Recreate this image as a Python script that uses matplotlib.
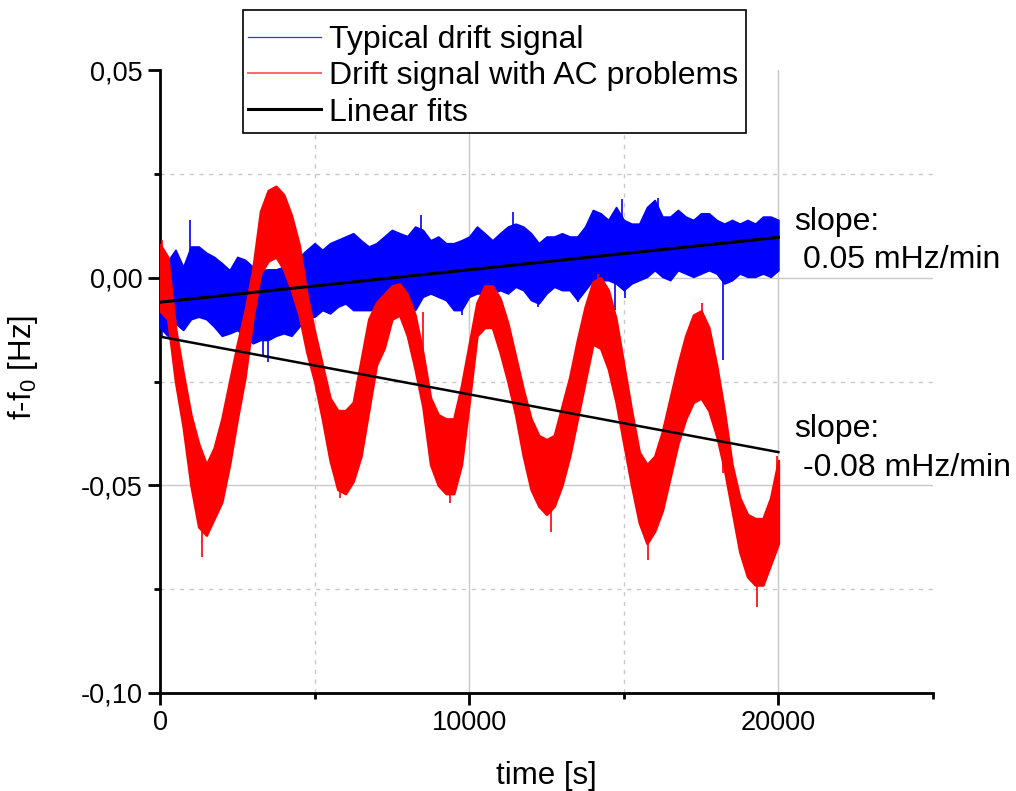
import numpy as np
import matplotlib
matplotlib.use('Agg')
import matplotlib.pyplot as plt
from matplotlib.lines import Line2D
from matplotlib.patches import Rectangle
from matplotlib.ticker import FixedLocator, FuncFormatter

plt.rcParams['font.family'] = ['Liberation Sans', 'DejaVu Sans']
plt.rcParams['mathtext.fontset'] = 'custom'
plt.rcParams['mathtext.rm'] = 'Liberation Sans'
plt.rcParams['mathtext.it'] = 'Liberation Sans'

# %% data, time in s, signal envelopes in mHz
t = np.arange(0, 20001, 250)

red_hi = [8, 5, -12, -23, -33, -40, -45, -41, -34, -25, -16, -8, 2, 16, 21, 22,
          20, 15, 8, -4, -13, -21, -29, -32, -32, -30, -20, -10, -6, -4, -2, -1.5,
          -4, -9, -18, -29, -33, -34, -34, -26, -16, -6, -2, -2, -5, -11, -19, -27,
          -34, -38, -39, -38, -31, -24, -15, -7, -1, 0, -3, -10, -21, -32, -42, -45,
          -43, -37, -29, -21, -14, -9, -8, -12, -21, -32, -45, -53, -57, -58, -58, -53,
          -44]
red_lo = [-8, -10, -25, -36, -50, -60, -62, -58, -54, -45, -34, -24, -10, 1, 4, 5,
          2, -3, -9, -18, -25, -34, -44, -51, -52, -49, -43, -32, -21, -17, -10, -9,
          -14, -22, -31, -45, -50, -52, -52, -45, -30, -14, -12, -12, -18, -25, -33, -43,
          -51, -55, -57, -55, -50, -43, -34, -25, -16, -17, -22, -30, -40, -50, -59, -64,
          -61, -56, -48, -40, -34, -30, -29, -32, -38, -46, -56, -66, -72, -74, -74, -69,
          -64]

blue_hi = [3, 4, 6.7, 2.6, 7.5, 7.5, 6, 5, 3.5, 1.8, 5, 4.3, 2.6, 1.8, 2, 2,
           2.6, 3.5, 5, 6.7, 8.3, 6.7, 8.3, 9.1, 9.9, 10.7, 9, 7.5, 8.3, 9.9, 11.5, 10.7,
           10, 12.3, 11.5, 9, 9.9, 8.3, 8.3, 9, 9.9, 12.3, 10.7, 9, 10.7, 12.3, 13, 12.3,
           10.7, 8.3, 9.9, 9.9, 10.7, 9.9, 9.9, 12.3, 16.3, 15.5, 13.9, 17, 13.9, 13, 13, 17,
           18.7, 14.7, 14.7, 16.3, 14.7, 13.9, 15.5, 15.5, 13.9, 13, 13.9, 13, 13.9, 13, 14.7, 14.7,
           13.9]
blue_lo = [-12, -14, -11, -12.6, -10, -9.4, -10, -11.8, -14, -13.4, -12.6, -14.2, -15.8, -15, -15, -14,
           -13.4, -14, -11.8, -9.4, -9.4, -7.8, -8.6, -7, -6.2, -7.8, -7.8, -7.8, -7.8, -6.2, -5, -6,
           -5.4, -7.8, -4.6, -3.8, -4.6, -5.4, -7.8, -7.8, -4.6, -3.8, -3.8, -3.8, -3, -3.8, -2.2, -3,
           -5.4, -6.2, -3.8, -2.2, -3, -3, -5.4, -3, -0.6, -0.6, -0.6, -1.4, -3, -1.4, -0.6, 0.2,
           1.8, 0.2, -0.6, 1.8, 1, 0.2, 1, 1.8, 1, -1.4, -0.6, 1, 0.2, 0.2, 1, 0.2,
           1.8]

# single spikes sticking out of the bands
red_spike_t = [54, 1348, 5821, 8518, 9394, 12634, 14176, 15771, 17517, 18218, 19297, 19945]
red_spike_v = [9, -67.2, -53.1, -8.2, -54.2, -61.2, 1.0, -68, -6.0, -47, -79.2, -43]
blue_spike_t = [75, 970, 3342, 3504, 8453, 9756, 11424, 12237, 13528, 14715, 14930, 15034, 16094, 18197]
blue_spike_v = [-14, 14.0, -19, -20.2, 15.2, -9.1, 15.9, -7.0, -5.8, -7.8, 18.9, -5.0, 19.1, -19.8]

# linear fits (Hz)
fit_t = [0, 20000]
blue_fit = [-0.0059, 0.0097]
red_fit = [-0.0142, -0.0420]

# %%
def to_hz(v):
    return np.asarray(v, dtype=float) / 1000.0

fig = plt.figure(figsize=(10.16, 7.91), dpi=100)
ax = fig.add_axes([160 / 1016, 1 - 693 / 791, 773 / 1016, 623 / 791])

# blue band
ax.fill_between(t, to_hz(blue_lo), to_hz(blue_hi), color='blue', lw=1.2, edgecolor='blue', zorder=3)
bmid = (np.array(blue_hi) + np.array(blue_lo)) / 2
ax.vlines(blue_spike_t, to_hz(np.interp(blue_spike_t, t, bmid)), to_hz(blue_spike_v),
          color='blue', lw=1.2, zorder=3)

# red band on top
ax.fill_between(t, to_hz(red_lo), to_hz(red_hi), color='red', lw=1.8, edgecolor='red', zorder=4)
rmid = (np.array(red_hi) + np.array(red_lo)) / 2
ax.vlines(red_spike_t, to_hz(np.interp(red_spike_t, t, rmid)), to_hz(red_spike_v),
          color='red', lw=1.2, zorder=4)

ax.plot(fit_t, blue_fit, color='black', lw=2.2, zorder=5)
ax.plot(fit_t, red_fit, color='black', lw=1.8, zorder=5)

ax.set_xlim(0, 25000)
ax.set_ylim(-0.10, 0.05)

# grid: solid at major, dashed at minor
for y in [0.0, -0.05]:
    ax.axhline(y, color='#c8c8c8', lw=1.0, zorder=1)
for x in [10000, 20000]:
    ax.axvline(x, color='#c8c8c8', lw=1.0, zorder=1)
for y in [0.025, -0.025, -0.075]:
    ax.axhline(y, color='#c8c8c8', lw=1.0, ls=(0, (3, 4)), zorder=1)
for x in [5000, 15000]:
    ax.axvline(x, color='#c8c8c8', lw=1.0, ls=(0, (3, 4)), zorder=1)

for s in ['top', 'right']:
    ax.spines[s].set_visible(False)
for s in ['left', 'bottom']:
    ax.spines[s].set_linewidth(2)

ax.xaxis.set_major_locator(FixedLocator([0, 10000, 20000]))
ax.xaxis.set_minor_locator(FixedLocator([5000, 15000, 25000]))
ax.yaxis.set_major_locator(FixedLocator([0.05, 0.0, -0.05, -0.10]))
ax.yaxis.set_minor_locator(FixedLocator([0.025, -0.025, -0.075]))
ax.xaxis.set_major_formatter(FuncFormatter(lambda v, p: '%d' % v))
ax.yaxis.set_major_formatter(FuncFormatter(lambda v, p: ('%.2f' % v).replace('.', ',').replace('-0,00', '0,00')))
ax.tick_params(which='major', direction='out', length=8.5, width=2, labelsize=19.5, pad=4)
ax.tick_params(which='minor', direction='out', length=4.5, width=2)

ax.set_xlabel('time [s]', fontsize=22.5, labelpad=18)
ax.set_ylabel('f-f$_0$ [Hz]', fontsize=22.5)
ax.yaxis.set_label_coords(-0.155, 0.523)

# legend box drawn separately so the padding can differ vertically/horizontally
fig.patches.append(Rectangle((243 / 1016, 1 - 133 / 791), 503 / 1016, 123 / 791,
                             transform=fig.transFigure, facecolor='white',
                             edgecolor='black', lw=1.2, zorder=9))
handles = [Line2D([], [], color='blue', lw=0.9, alpha=0.8),
           Line2D([], [], color='red', lw=1.4, alpha=0.6),
           Line2D([], [], color='black', lw=2.2)]
labels = ['Typical drift signal', 'Drift signal with AC problems', 'Linear fits']
leg = fig.legend(handles, labels, loc='upper left', bbox_to_anchor=(243 / 1016, 1 - 20 / 791),
                 fontsize=23, frameon=False, borderaxespad=0, borderpad=0.15,
                 handlelength=2.3, handletextpad=0.25, labelspacing=0.2)
leg.set_zorder(10)

fig.text(794 / 1016, 1 - 230 / 791, 'slope:', fontsize=23, va='baseline')
fig.text(803 / 1016, 1 - 268 / 791, '0.05 mHz/min', fontsize=23, va='baseline')
fig.text(794 / 1016, 1 - 437 / 791, 'slope:', fontsize=23, va='baseline')
fig.text(803 / 1016, 1 - 476 / 791, '-0.08 mHz/min', fontsize=23, va='baseline')

plt.savefig('out.png', dpi=100)
